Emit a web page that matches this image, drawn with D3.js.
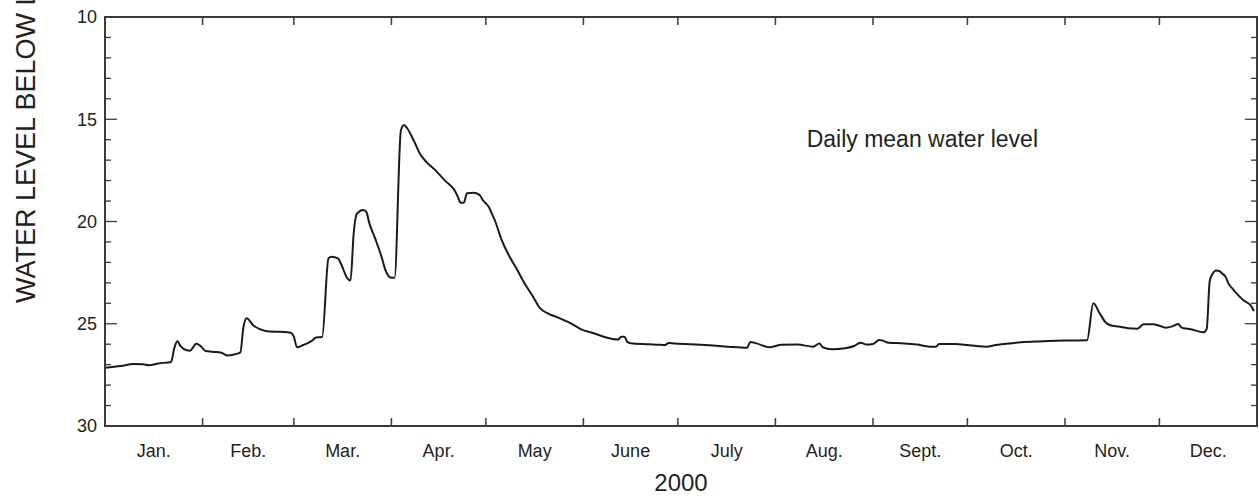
<!DOCTYPE html>
<html>
<head>
<meta charset="utf-8">
<script src="https://cdn.jsdelivr.net/npm/d3@7/dist/d3.min.js"></script>
<style>
  html, body { margin: 0; padding: 0; background: #fff; }
  svg { display: block; }
  text { font-family: "Liberation Sans", Arial, Helvetica, sans-serif; fill: #231f20; }
</style>
</head>
<body>
<svg id="chart" width="1259" height="498"></svg>
<script>
// Daily mean water level, 2000 (feet below land surface)
const dates = [
  "2000-01-01","2000-01-06","2000-01-10","2000-01-13","2000-01-15","2000-01-18","2000-01-22","2000-01-23",
  "2000-01-24","2000-01-25","2000-01-27","2000-01-28","2000-01-30","2000-01-31","2000-02-02","2000-02-04",
  "2000-02-07","2000-02-09","2000-02-11","2000-02-13","2000-02-14","2000-02-15","2000-02-17","2000-02-21",
  "2000-02-24","2000-02-27","2000-02-29","2000-03-01","2000-03-02","2000-03-04","2000-03-06","2000-03-07",
  "2000-03-08","2000-03-10","2000-03-12","2000-03-13","2000-03-15","2000-03-16","2000-03-18","2000-03-19",
  "2000-03-20","2000-03-21","2000-03-23","2000-03-24","2000-03-25","2000-03-27","2000-03-29","2000-03-30",
  "2000-04-01","2000-04-02","2000-04-04","2000-04-05","2000-04-06","2000-04-08","2000-04-10","2000-04-12",
  "2000-04-15","2000-04-18","2000-04-21","2000-04-22","2000-04-23","2000-04-24","2000-04-25","2000-04-27",
  "2000-04-29","2000-04-30","2000-05-02","2000-05-03","2000-05-04","2000-05-06","2000-05-09","2000-05-11",
  "2000-05-13","2000-05-16","2000-05-18","2000-05-21","2000-05-24","2000-05-28","2000-05-31","2000-06-05",
  "2000-06-08","2000-06-12","2000-06-13","2000-06-14","2000-06-15","2000-06-16","2000-06-22","2000-06-25",
  "2000-06-27","2000-06-28","2000-06-30","2000-07-05","2000-07-11","2000-07-17","2000-07-23","2000-07-24",
  "2000-07-26","2000-07-30","2000-08-03","2000-08-08","2000-08-13","2000-08-15","2000-08-16","2000-08-19",
  "2000-08-23","2000-08-26","2000-08-28","2000-08-30","2000-09-01","2000-09-03","2000-09-04","2000-09-06",
  "2000-09-11","2000-09-15","2000-09-19","2000-09-21","2000-09-22","2000-09-27","2000-10-01","2000-10-04",
  "2000-10-07","2000-10-10","2000-10-15","2000-10-19","2000-10-23","2000-10-27","2000-11-01","2000-11-08",
  "2000-11-10","2000-11-12","2000-11-14","2000-11-16","2000-11-18","2000-11-21","2000-11-24","2000-11-26",
  "2000-11-29","2000-12-01","2000-12-03","2000-12-05","2000-12-07","2000-12-08","2000-12-11","2000-12-15",
  "2000-12-16","2000-12-17","2000-12-18","2000-12-19","2000-12-20","2000-12-21","2000-12-22","2000-12-23",
  "2000-12-24","2000-12-26","2000-12-28","2000-12-30","2000-12-31"
];
const levels = [
  27.15, 27.07, 26.97, 26.98, 27.03, 26.94, 26.87, 26.20,
  25.86, 26.10, 26.30, 26.32, 25.98, 26.05, 26.33, 26.37,
  26.42, 26.55, 26.50, 26.40, 25.14, 24.73, 25.06, 25.35,
  25.39, 25.40, 25.44, 25.63, 26.15, 26.04, 25.90, 25.80,
  25.67, 25.65, 21.80, 21.72, 21.80, 22.08, 22.78, 22.89,
  20.60, 19.63, 19.44, 19.52, 20.09, 20.90, 21.80, 22.34,
  22.75, 22.75, 15.56, 15.28, 15.44, 16.01, 16.67, 17.07,
  17.50, 18.00, 18.46, 18.75, 19.08, 19.08, 18.62, 18.59,
  18.70, 18.95, 19.30, 19.65, 20.00, 20.90, 21.85, 22.37,
  22.95, 23.68, 24.20, 24.52, 24.70, 24.98, 25.25, 25.50,
  25.66, 25.77, 25.63, 25.63, 25.90, 25.95, 26.00, 26.03,
  26.04, 25.94, 25.97, 26.00, 26.05, 26.12, 26.17, 25.89,
  25.96, 26.15, 26.03, 26.02, 26.12, 25.96, 26.15, 26.25,
  26.20, 26.09, 25.93, 26.02, 25.99, 25.79, 25.82, 25.93,
  25.96, 26.02, 26.12, 26.12, 25.99, 25.99, 26.04, 26.09,
  26.12, 26.04, 25.95, 25.89, 25.87, 25.84, 25.82, 25.81,
  24.00, 24.49, 24.95, 25.10, 25.14, 25.22, 25.24, 25.03,
  25.03, 25.10, 25.19, 25.13, 25.01, 25.19, 25.27, 25.42,
  25.27, 22.90, 22.53, 22.39, 22.42, 22.55, 22.70, 23.05,
  23.25, 23.60, 23.89, 24.10, 24.38
];

const monthLabels = ["Jan.", "Feb.", "Mar.", "Apr.", "May", "June", "July", "Aug.", "Sept.", "Oct.", "Nov.", "Dec."];
const yearLabel = "2000";
const yMajorTicks = [10, 15, 20, 25, 30];
const yAxisTitle = "WATER LEVEL BELOW LAND SURFACE, IN FEET";
const seriesLabel = "Daily mean water level";

const parse = d3.timeParse("%Y-%m-%d");
const data = dates.map((d, i) => ({ date: parse(d), value: levels[i] }));

const svg = d3.select("#chart");
const plotLeft = 105, plotRight = 1257, plotTop = 17, plotBottom = 426;

const x = d3.scaleTime()
  .domain([new Date(2000, 0, 1), new Date(2001, 0, 1)])
  .range([plotLeft, plotRight]);
const y = d3.scaleLinear().domain([10, 30]).range([plotTop, plotBottom]);

const frameColor = "#3a3a3a";
const months = d3.timeMonth.range(new Date(2000, 0, 1), new Date(2001, 0, 1));
const innerMonthTicks = months.slice(1);

// month ticks along bottom and top (pointing inward)
const g = svg.append("g");
g.selectAll("line.mb").data(innerMonthTicks).join("line")
  .attr("class", "mb")
  .attr("x1", d => x(d)).attr("x2", d => x(d))
  .attr("y1", plotBottom).attr("y2", plotBottom - 8)
  .attr("stroke", frameColor).attr("stroke-width", 1.5);
g.selectAll("line.mt").data(innerMonthTicks).join("line")
  .attr("class", "mt")
  .attr("x1", d => x(d)).attr("x2", d => x(d))
  .attr("y1", plotTop).attr("y2", plotTop + 8)
  .attr("stroke", frameColor).attr("stroke-width", 1.5);

// y ticks, major and minor, on both sides
const yAll = d3.range(10, 31, 1);
yAll.forEach(v => {
  const len = yMajorTicks.includes(v) ? 12 : 6;
  g.append("line").attr("x1", plotLeft).attr("x2", plotLeft + len)
    .attr("y1", y(v)).attr("y2", y(v))
    .attr("stroke", frameColor).attr("stroke-width", 1.3);
  g.append("line").attr("x1", plotRight).attr("x2", plotRight - len)
    .attr("y1", y(v)).attr("y2", y(v))
    .attr("stroke", frameColor).attr("stroke-width", 1.3);
});

// y tick labels
g.selectAll("text.yl").data(yMajorTicks).join("text")
  .attr("class", "yl")
  .attr("x", plotLeft - 8).attr("y", d => y(d))
  .attr("dy", "0.36em")
  .attr("text-anchor", "end")
  .attr("font-size", 18)
  .text(d => d);

// month labels at mid-month
g.selectAll("text.ml").data(months).join("text")
  .attr("class", "ml")
  .attr("x", d => (x(d) + x(d3.timeMonth.offset(d, 1))) / 2)
  .attr("y", 457)
  .attr("text-anchor", "middle")
  .attr("font-size", 18)
  .text((d, i) => monthLabels[i]);

// year label
svg.append("text")
  .attr("x", (plotLeft + plotRight) / 2).attr("y", 491)
  .attr("text-anchor", "middle")
  .attr("font-size", 24)
  .text(yearLabel);

// y axis title
svg.append("text")
  .attr("transform", "translate(35,303) rotate(-90)")
  .attr("text-anchor", "start")
  .attr("font-size", 27)
  .text(yAxisTitle);

// series annotation
svg.append("text")
  .attr("x", 1038).attr("y", 147)
  .attr("text-anchor", "end")
  .attr("font-size", 23)
  .text(seriesLabel);

// water level line
const line = d3.line()
  .x(d => x(d.date))
  .y(d => y(d.value))
  .curve(d3.curveMonotoneX);

svg.append("path")
  .datum(data)
  .attr("d", line)
  .attr("fill", "none")
  .attr("stroke", "#1a1a1a")
  .attr("stroke-width", 2)
  .attr("stroke-linejoin", "round");

// plot frame
svg.append("rect")
  .attr("x", plotLeft).attr("y", plotTop)
  .attr("width", plotRight - plotLeft).attr("height", plotBottom - plotTop)
  .attr("fill", "none")
  .attr("stroke", frameColor)
  .attr("stroke-width", 2);
</script>
</body>
</html>
